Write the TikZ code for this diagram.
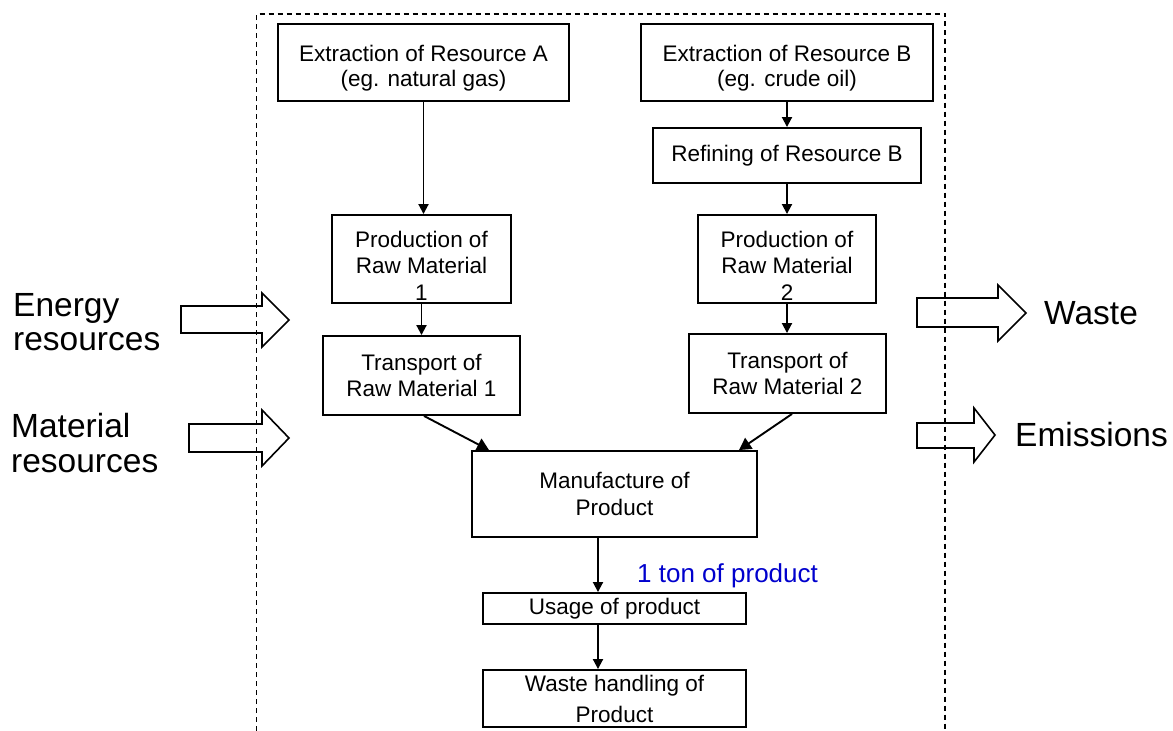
\documentclass[tikz,border=0pt]{standalone}
\usepackage{fontspec}
\setmainfont{Liberation Sans}
\usetikzlibrary{arrows.meta,calc}
\definecolor{tonblue}{RGB}{0,0,205}
\newcommand{\lowstrut}[1]{\rule{0pt}{#1}}
\begin{document}
\begin{tikzpicture}[x=1pt,y=-1pt,
  box/.style={draw, line width=1.9pt, align=center, inner sep=0pt,
    font=\fontsize{22.5}{26.5}\selectfont},
  arr/.style={-{Triangle[length=10pt,width=10pt]}, line width=1.9pt},
  bigarr/.style={-{Triangle[length=12pt,width=13pt]}, line width=1.9pt},
  frame/.style={line width=1.3pt, dash pattern=on 5pt off 4pt},
  blockarr/.style={draw, line width=1.6pt},
  biglabel/.style={align=left, inner sep=0pt, font=\fontsize{33.5}{34.5}\selectfont}]
\useasboundingbox (0,0) rectangle (1173,731);
% dashed system boundary
\draw[frame] (256.5,731) -- (256.5,14) -- (945,14) -- (945,731);
% process boxes
\node[box, font=\fontsize{22.5}{24.5}\selectfont, minimum width=291pt, minimum height=77pt] (A) at (423.5,62.5) {\lowstrut{27.5pt}Extraction of Resource A\\(eg. natural gas)};
\node[box, font=\fontsize{22.5}{24.5}\selectfont, minimum width=292pt, minimum height=77pt] (B) at (787,62.5) {\lowstrut{27.5pt}Extraction of Resource B\\(eg. crude oil)};
\node[box, minimum width=268pt, minimum height=55pt] (R) at (787,155.5) {Refining of Resource B};
\node[box, minimum width=179pt, minimum height=88pt] (P1) at (421.5,259) {\lowstrut{29pt}Production of\\Raw Material\\1};
\node[box, minimum width=178pt, minimum height=88pt] (P2) at (787,259) {\lowstrut{29pt}Production of\\Raw Material\\2};
\node[box, minimum width=197pt, minimum height=79pt] (T1) at (421.5,375.5) {Transport of\\Raw Material 1};
\node[box, minimum width=197pt, minimum height=79pt] (T2) at (787.5,373.5) {Transport of\\Raw Material 2};
\node[box, font=\fontsize{22.5}{27.5}\selectfont, minimum width=285pt, minimum height=86pt] (M) at (614.5,494) {Manufacture of\\Product};
\node[box, minimum width=263pt, minimum height=31pt] (U) at (614.5,608.5) {Usage of product};
\node[box, font=\fontsize{22.5}{31}\selectfont, minimum width=263pt, minimum height=57pt] (W) at (614.5,698.5) {Waste handling of\\Product};
% connectors
\draw[arr] (A.south) -- (A.south |- P1.north);
\draw[arr] (P1.south) -- (P1.south |- T1.north);
\draw[arr] (B.south) -- (B.south |- R.north);
\draw[arr] (R.south) -- (R.south |- P2.north);
\draw[arr] (P2.south) -- (P2.south |- T2.north);
\draw[bigarr] ([xshift=2.5pt]T1.south) -- ([xshift=-125.5pt]M.north);
\draw[bigarr] ([xshift=4.5pt]T2.south) -- ([xshift=124.5pt]M.north);
\draw[arr] ([xshift=-16.5pt]M.south) -- ([xshift=-16.5pt]U.north);
\draw[arr] ([xshift=-16.5pt]U.south) -- ([xshift=-16.5pt]W.north);
\node[anchor=base west, inner sep=0pt, text=tonblue, font=\fontsize{26}{30}\selectfont] (ton) at (637,582) {1 ton of product};
% block arrows
\draw[blockarr] (181,306) -- (262,306) -- (262,293) -- (289,320) -- (262,347) -- (262,333) -- (181,333) -- cycle;
\draw[blockarr] (189,424) -- (262,424) -- (262,410) -- (289,438) -- (262,466) -- (262,452) -- (189,452) -- cycle;
\draw[blockarr] (917,298) -- (998,298) -- (998,285) -- (1026,313) -- (998,341) -- (998,327) -- (917,327) -- cycle;
\draw[blockarr] (917,423) -- (974,423) -- (974,408) -- (995,435) -- (974,462) -- (974,448) -- (917,448) -- cycle;
% labels
\node[biglabel, anchor=west] (energy) at (13,322.2) {Energy\\resources};
\node[biglabel, anchor=west] (material) at (11,443) {Material\\resources};
\node[biglabel, anchor=west] (waste) at (1044,313) {Waste};
\node[biglabel, anchor=west] (emis) at (1015,435) {Emissions};
\end{tikzpicture}
\end{document}
